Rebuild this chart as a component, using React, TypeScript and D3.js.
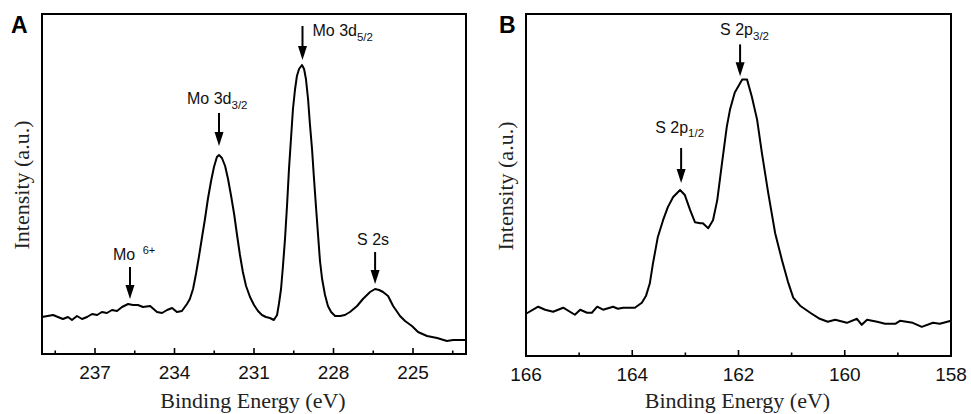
import React, { useEffect, useRef } from 'react';
import * as d3 from 'd3';

// Mo 3d region (panel A): binding energy (eV) and intensity (a.u.)
const moEnergy = [
  239.0, 238.58, 238.4, 238.21, 238.02, 237.87, 237.68, 237.49, 237.3, 237.11,
  236.92, 236.74, 236.55, 236.36, 236.17, 235.98, 235.75, 235.57, 235.38, 235.19,
  234.92, 234.66, 234.47, 234.28, 234.09, 233.91, 233.72, 233.53, 233.42, 233.3,
  233.19, 233.08, 232.96, 232.85, 232.74, 232.62, 232.51, 232.4, 232.32, 232.21,
  232.09, 231.98, 231.87, 231.75, 231.64, 231.53, 231.42, 231.3, 231.15, 231.0,
  230.85, 230.7, 230.55, 230.4, 230.25, 230.13, 230.06, 229.98, 229.91, 229.83,
  229.75, 229.68, 229.6, 229.53, 229.45, 229.38, 229.3, 229.19, 229.11, 229.04,
  228.96, 228.89, 228.81, 228.74, 228.66, 228.58, 228.51, 228.43, 228.32, 228.21,
  228.09, 227.94, 227.75, 227.57, 227.38, 227.11, 226.89, 226.62, 226.43, 226.28,
  226.13, 225.94, 225.75, 225.49, 225.3, 225.04, 224.81, 224.47, 224.09, 223.72,
  223.49, 223.0,
];
const moIntensity = [
  37, 39, 37, 35, 37, 34, 38, 35, 37, 40,
  39, 42, 41, 44, 43, 47, 50, 49, 49, 47,
  48, 42, 41, 44, 46, 42, 43, 50, 55, 65,
  80, 97, 117, 135, 155, 173, 187, 197, 199, 196,
  188, 175, 159, 140, 119, 99, 82, 68, 57, 49,
  43, 39, 37, 36, 34, 39, 50, 65, 87, 115,
  150, 185, 217, 245, 265, 278, 285, 289, 285, 275,
  255, 230, 205, 177, 147, 118, 93, 75, 59, 48,
  42, 38, 38, 39, 42, 48, 55, 62, 65, 64,
  62, 58, 48, 38, 33, 28, 22, 18, 16, 13,
  14, 14,
];

// S 2p region (panel B)
const sEnergy = [
  166.0, 165.77, 165.64, 165.49, 165.3, 165.08, 164.98, 164.85, 164.76, 164.66,
  164.55, 164.36, 164.27, 164.17, 163.95, 163.82, 163.74, 163.67, 163.61, 163.52,
  163.42, 163.33, 163.23, 163.1, 163.01, 162.91, 162.82, 162.72, 162.67, 162.57,
  162.48, 162.4, 162.31, 162.22, 162.16, 162.07, 161.93, 161.84, 161.75, 161.65,
  161.56, 161.44, 161.31, 161.18, 161.07, 160.97, 160.84, 160.65, 160.47, 160.32,
  160.18, 159.96, 159.77, 159.68, 159.58, 159.39, 159.24, 159.05, 158.96, 158.72,
  158.55, 158.34, 158.21, 158.0,
];
const sIntensity = [
  42, 49, 46, 44, 48, 41, 46, 43, 43, 49,
  46, 49, 47, 48, 48, 53, 60, 72, 92, 118,
  135, 148, 158, 165, 160, 145, 133, 132, 132, 127,
  135, 155, 192, 228, 245, 262, 275, 275, 258, 235,
  202, 162, 122, 95, 74, 58, 50, 43, 37, 34,
  36, 33, 37, 31, 36, 34, 32, 32, 35, 33,
  29, 33, 32, 35,
];

const moTicks = [237, 234, 231, 228, 225];
const moMinor = [238.5, 235.5, 232.5, 229.5, 226.5, 223.5];
const sTicks = [166, 164, 162, 160, 158];
const sMinor = [165, 163, 161, 159];

// peak labels: text, subscript / superscript, energy of the arrow, intensity at the arrow tip
const moPeaks = [
  { text: 'Mo 3d', sub: '5/2', sup: '', energy: 229.17, tip: 294 },
  { text: 'Mo 3d', sub: '3/2', sup: '', energy: 232.32, tip: 208 },
  { text: 'Mo ', sub: '', sup: '6+', energy: 235.68, tip: 55 },
  { text: 'S 2s', sub: '', sup: '', energy: 226.43, tip: 70 },
];
const sPeaks = [
  { text: 'S 2p', sub: '3/2', sup: '', energy: 161.97, tip: 278 },
  { text: 'S 2p', sub: '1/2', sup: '', energy: 163.08, tip: 172 },
];

// label layout relative to arrow: [dx of label start, arrow length, label baseline above arrow top]
const labelLayout = [
  [[10, 34, -10], [-32, 33, 9], [-17, 32, 7], [-18, 32, 7]],
  [[-20, 32, 9], [-26, 35, 15]],
];

const panels = [
  { letter: 'A', left: 42, right: 466, top: 14, bottom: 354, domain: [239, 223], energy: moEnergy, intensity: moIntensity, ticks: moTicks, minor: moMinor, peaks: moPeaks },
  { letter: 'B', left: 526, right: 951, top: 14, bottom: 356, domain: [166, 158], energy: sEnergy, intensity: sIntensity, ticks: sTicks, minor: sMinor, peaks: sPeaks },
];

const sans = '"Liberation Sans", Arial, sans-serif';
const serif = '"Liberation Serif", "Times New Roman", serif';

function drawChart(node: SVGSVGElement) {
  const svg = d3.select(node);
  svg.selectAll('*').remove();

  panels.forEach((p, pi) => {
    const x = d3.scaleLinear().domain(p.domain).range([p.left, p.right]);
    const y = d3.scaleLinear().domain([0, 340]).range([p.bottom, p.top]);
    const g = svg.append('g');

    // spectrum
    const pts = p.energy.map((e, i) => [e, p.intensity[i]] as [number, number]);
    const line = d3.line<[number, number]>().x(d => x(d[0])).y(d => y(d[1]));
    g.append('path')
      .datum(pts)
      .attr('d', line)
      .attr('fill', 'none')
      .attr('stroke', '#000')
      .attr('stroke-width', 2)
      .attr('stroke-linejoin', 'round');

    // ticks (inward)
    g.selectAll('.major')
      .data(p.ticks)
      .enter().append('line')
      .attr('x1', d => x(d)).attr('x2', d => x(d))
      .attr('y1', p.bottom).attr('y2', p.bottom - 6)
      .attr('stroke', '#000').attr('stroke-width', 1.6);
    g.selectAll('.minor')
      .data(p.minor)
      .enter().append('line')
      .attr('x1', d => x(d)).attr('x2', d => x(d))
      .attr('y1', p.bottom).attr('y2', p.bottom - 3.5)
      .attr('stroke', '#000').attr('stroke-width', 1.6);

    g.selectAll('.ticklabel')
      .data(p.ticks)
      .enter().append('text')
      .attr('x', d => x(d))
      .attr('y', p.bottom + 25)
      .attr('text-anchor', 'middle')
      .style('font-family', sans)
      .style('font-size', '19px')
      .attr('fill', '#111')
      .text(d => d);

    // frame
    g.append('rect')
      .attr('x', p.left).attr('y', p.top)
      .attr('width', p.right - p.left).attr('height', p.bottom - p.top)
      .attr('fill', 'none').attr('stroke', '#000').attr('stroke-width', 2);

    // axis titles
    g.append('text')
      .attr('x', (p.left + p.right) / 2 - 1)
      .attr('y', 408)
      .attr('text-anchor', 'middle')
      .style('font-family', serif)
      .style('font-size', '22px')
      .attr('fill', '#222')
      .text('Binding Energy (eV)');
    g.append('text')
      .attr('transform', `translate(${p.left - 13},${(p.top + p.bottom) / 2 + 1}) rotate(-90)`)
      .attr('text-anchor', 'middle')
      .style('font-family', serif)
      .style('font-size', '22px')
      .attr('fill', '#222')
      .text('Intensity (a.u.)');

    // panel letter
    g.append('text')
      .attr('x', p.left - 31 + pi * 4)
      .attr('y', 33)
      .style('font-family', sans)
      .style('font-weight', 'bold')
      .style('font-size', '23px')
      .text(p.letter);

    // peak arrows and labels
    p.peaks.forEach((pk, k) => {
      const [dx, len, gap] = labelLayout[pi][k];
      const ax = x(pk.energy);
      const tipY = y(pk.tip);
      const topY = tipY - len;
      g.append('line')
        .attr('x1', ax).attr('x2', ax)
        .attr('y1', topY).attr('y2', tipY - 12)
        .attr('stroke', '#000').attr('stroke-width', 2);
      g.append('path')
        .attr('d', `M${ax - 4.5},${tipY - 14}L${ax + 4.5},${tipY - 14}L${ax},${tipY}Z`)
        .attr('fill', '#000');
      const t = g.append('text')
        .attr('x', ax + dx)
        .attr('y', topY - gap)
        .style('font-family', sans)
        .style('font-size', '16px')
        .attr('fill', '#111')
        .attr('xml:space', 'preserve')
        .text(pk.text);
      if (pk.sub) {
        t.append('tspan').attr('dy', 4.5).style('font-size', '11.5px').text(pk.sub);
      }
      if (pk.sup) {
        t.append('tspan').attr('dx', 3).attr('dy', -6).style('font-size', '11px').text(pk.sup);
      }
    });
  });
}

const App = () => {
  const ref = useRef<SVGSVGElement>(null);
  useEffect(() => {
    if (ref.current) drawChart(ref.current);
  }, []);
  return (
    <svg
      ref={ref}
      width={971}
      height={414}
      style={{ position: 'absolute', left: 0, top: 0, background: '#fff' }}
    />
  );
};

export default App;
